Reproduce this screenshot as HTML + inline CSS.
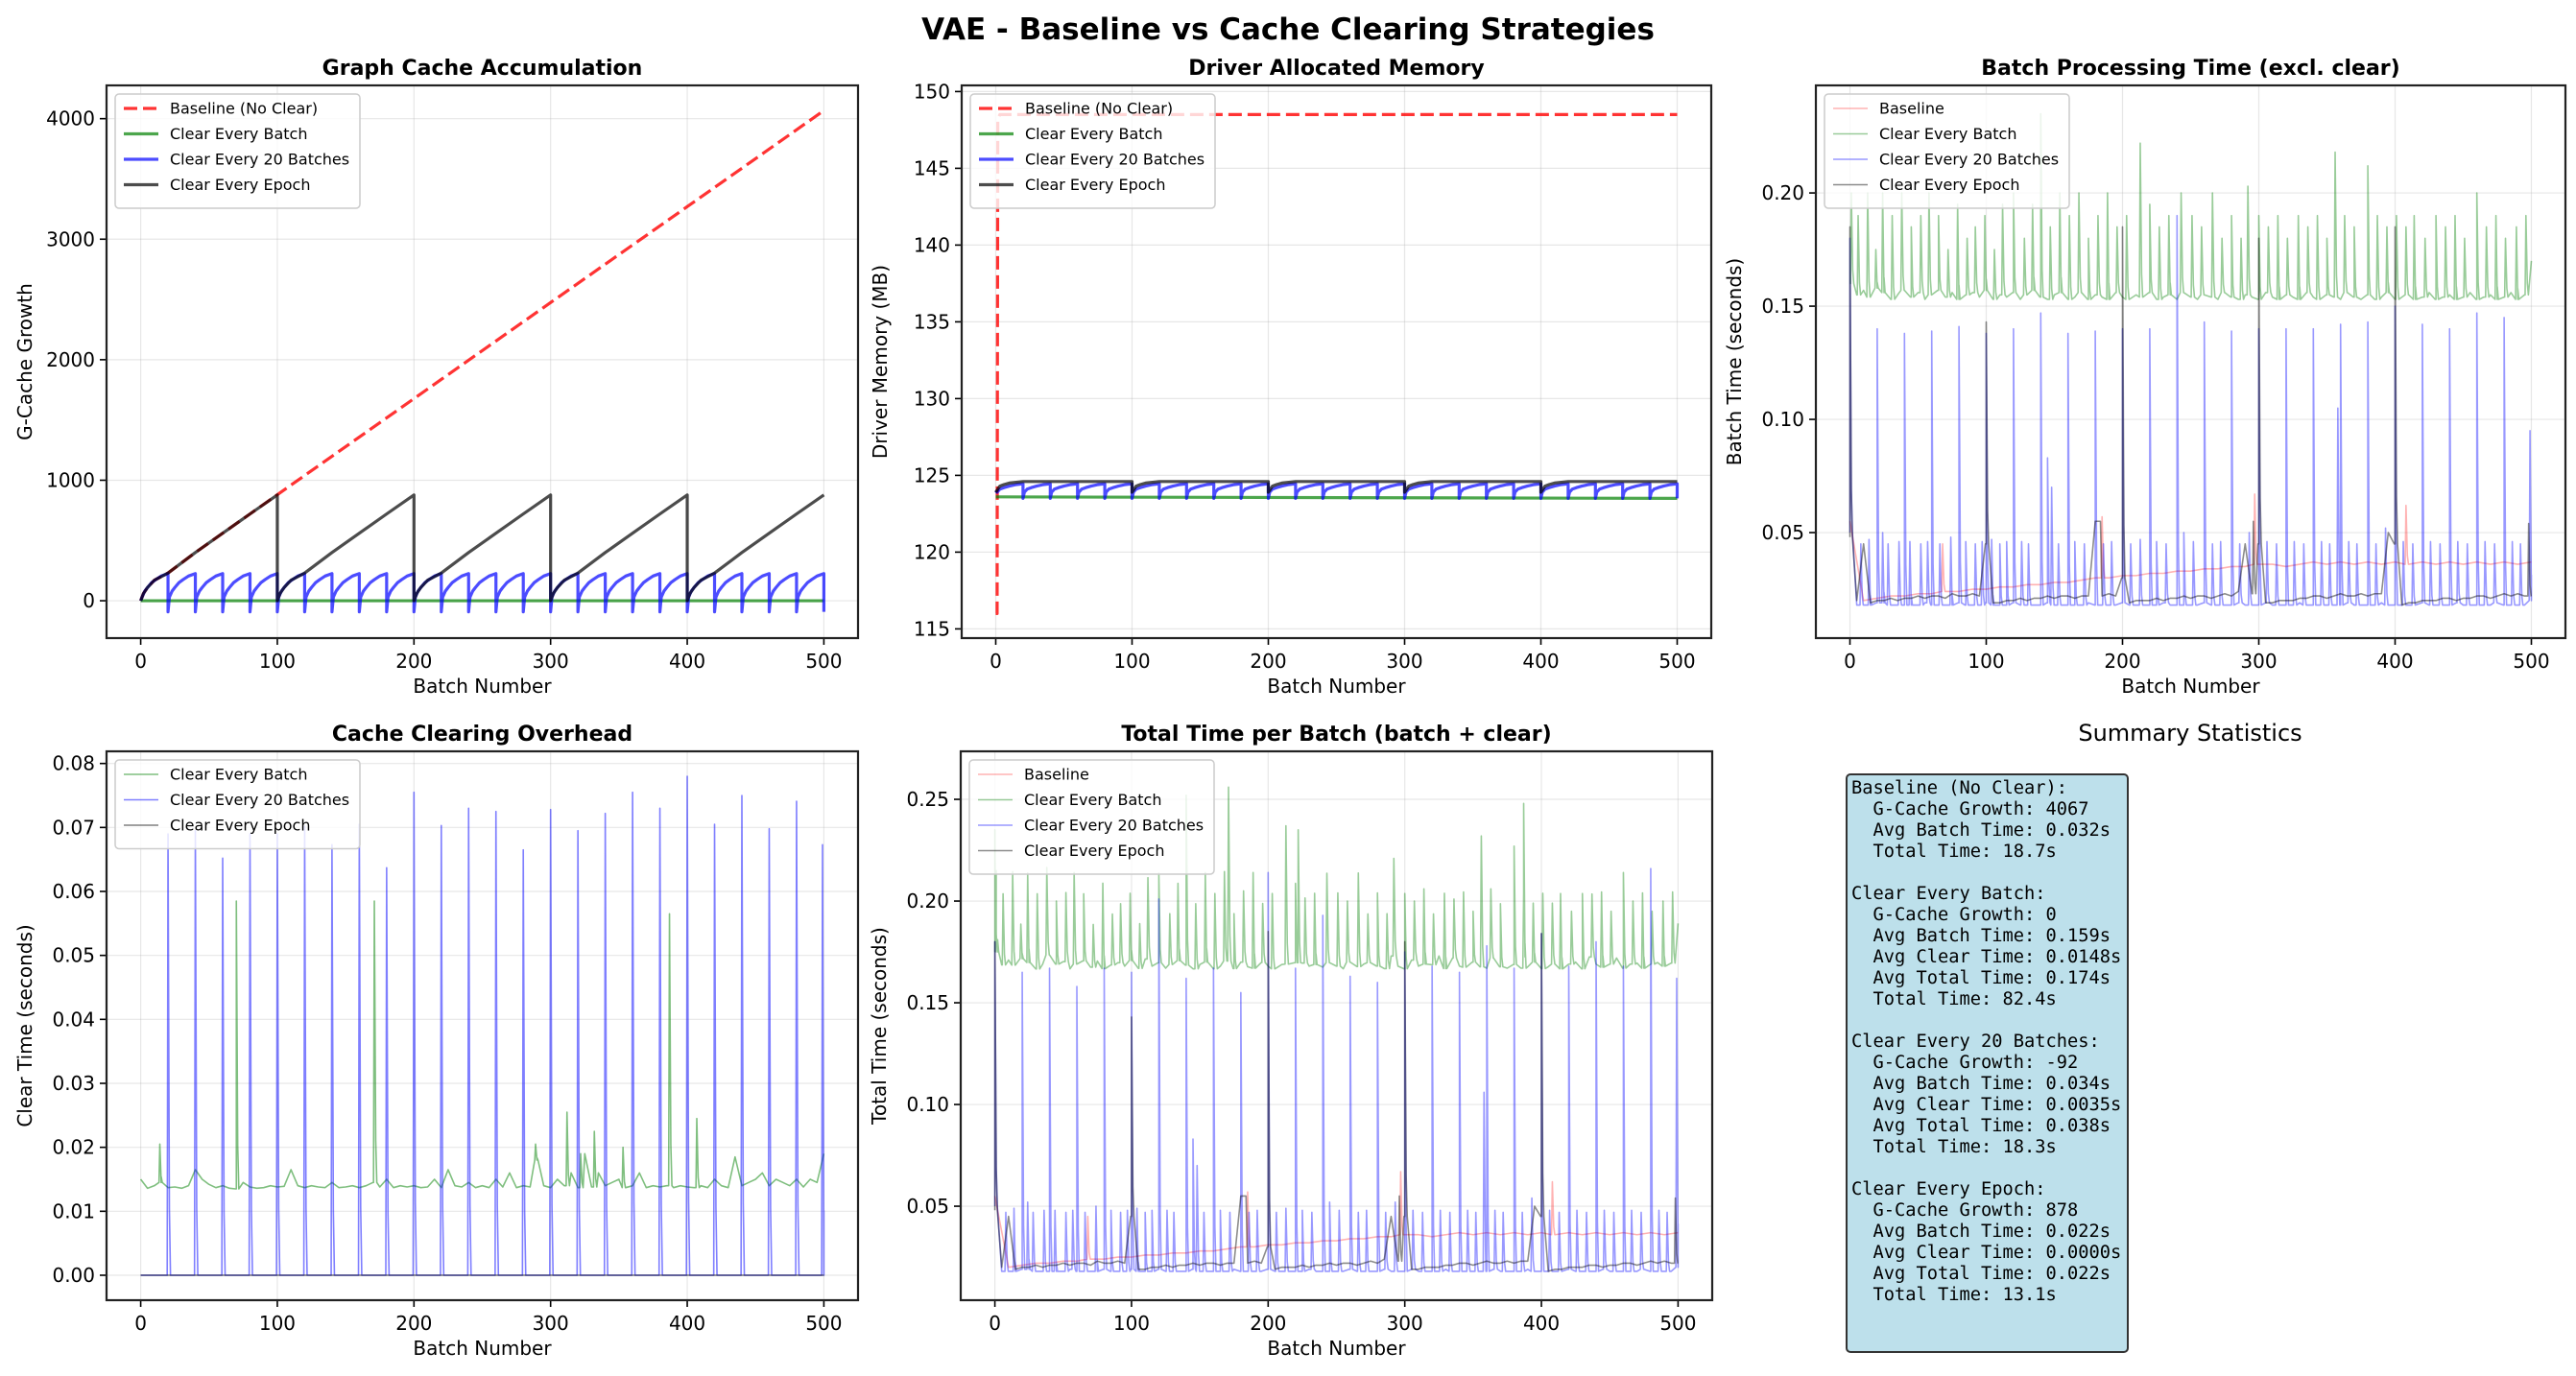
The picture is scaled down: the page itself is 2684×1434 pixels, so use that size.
<!DOCTYPE html>
<html><head><meta charset="utf-8">
<style>
html,body{margin:0;padding:0;background:#fff;}
svg{display:block;font-family:"DejaVu Sans","Liberation Sans",sans-serif;}
</style></head>
<body>
<svg id="fig" width="2684" height="1434" viewBox="0 0 2684 1434" xmlns="http://www.w3.org/2000/svg">
<rect x="0" y="0" width="2684" height="1434" fill="#fff"/>
<text x="1342" y="41" text-anchor="middle" font-size="31" font-weight="bold">VAE - Baseline vs Cache Clearing Strategies</text>
<text x="2282" y="772" text-anchor="middle" font-size="24">Summary Statistics</text>
<g>
<rect x="1924" y="807" width="293" height="602" rx="4" fill="#bde0eb" stroke="#333" stroke-width="2"/>
<text font-family="'DejaVu Sans Mono','Liberation Mono',monospace" font-size="18.7" fill="#000" xml:space="preserve">
<tspan x="1929" y="827">Baseline (No Clear):</tspan>
<tspan x="1929" y="849">  G-Cache Growth: 4067</tspan>
<tspan x="1929" y="871">  Avg Batch Time: 0.032s</tspan>
<tspan x="1929" y="893">  Total Time: 18.7s</tspan>
<tspan x="1929" y="937">Clear Every Batch:</tspan>
<tspan x="1929" y="959">  G-Cache Growth: 0</tspan>
<tspan x="1929" y="981">  Avg Batch Time: 0.159s</tspan>
<tspan x="1929" y="1003">  Avg Clear Time: 0.0148s</tspan>
<tspan x="1929" y="1025">  Avg Total Time: 0.174s</tspan>
<tspan x="1929" y="1047">  Total Time: 82.4s</tspan>
<tspan x="1929" y="1091">Clear Every 20 Batches:</tspan>
<tspan x="1929" y="1113">  G-Cache Growth: -92</tspan>
<tspan x="1929" y="1135">  Avg Batch Time: 0.034s</tspan>
<tspan x="1929" y="1157">  Avg Clear Time: 0.0035s</tspan>
<tspan x="1929" y="1179">  Avg Total Time: 0.038s</tspan>
<tspan x="1929" y="1201">  Total Time: 18.3s</tspan>
<tspan x="1929" y="1245">Clear Every Epoch:</tspan>
<tspan x="1929" y="1267">  G-Cache Growth: 878</tspan>
<tspan x="1929" y="1289">  Avg Batch Time: 0.022s</tspan>
<tspan x="1929" y="1311">  Avg Clear Time: 0.0000s</tspan>
<tspan x="1929" y="1333">  Avg Total Time: 0.022s</tspan>
<tspan x="1929" y="1355">  Total Time: 13.1s</tspan>
</text>
</g>
</svg>
<script>
// ---------- DATA ----------
const xTicks = [0,100,200,300,400,500];
// Panel 1: Graph cache
const gcBaseX = [0,2,5,10,15,20,40,60,80,100,200,300,400,500];
const gcBaseY = [0,60,110,170,200,230,400,560,720,880,1677,2474,3270,4067];
const gcEpochStarts = [0,100,200,300,400];
const gcEpochOffsets = [0,2,5,10,15,20,40,60,80,100];
const gcEpochVals = [0,60,110,170,200,230,400,560,720,878];
const gc20Starts = [0,20,40,60,80,100,120,140,160,180,200,220,240,260,280,300,320,340,360,380,400,420,440,460,480];
const gc20Offsets = [0,1,3,5,8,11,15,20];
const gc20Vals = [-92,30,80,110,150,175,205,225];
const gcYTicks = [0,1000,2000,3000,4000];
// Panel 2: Driver memory
const memBaseX = [0,1,1.5,3,500];
const memBaseY = [116,116,148.2,148.5,148.5];
const memBatchY = [123.6,123.5];
const mem20Offsets = [0,1,3,6,10,15,20];
const mem20Vals = [123.5,123.9,124.1,124.2,124.3,124.4,124.45];
const memEpochOffsets = [0,3,6,10,20,100];
const memEpochVals = [123.9,124.3,124.4,124.5,124.6,124.6];
const memYTicks = [115,120,125,130,135,140,145,150];
// Panel 3: batch time (sampled every 5 batches)
const btBaseline = [0.055,0.02,0.021,0.022,0.022,0.023,0.023,0.024,0.024,0.025,0.025,0.026,0.026,0.027,0.027,0.028,0.028,0.029,0.03,0.03,0.031,0.031,0.032,0.032,0.033,0.033,0.034,0.034,0.035,0.035,0.036,0.036,0.035,0.036,0.037,0.036,0.037,0.036,0.037,0.036,0.037,0.036,0.037,0.036,0.037,0.036,0.037,0.036,0.037,0.036,0.037];
const btBaselineSpikes = [[68,0.045],[185,0.057],[297,0.067],[408,0.062]];
const btBatch = [
0.16,0.155,0.157,0.154,0.158,0.156,0.153,0.155,0.157,0.154,
0.156,0.153,0.155,0.157,0.154,0.156,0.153,0.155,0.156,0.154,
0.157,0.153,0.155,0.154,0.156,0.153,0.155,0.157,0.154,0.153,
0.155,0.156,0.153,0.154,0.156,0.153,0.155,0.154,0.153,0.156,
0.154,0.153,0.155,0.154,0.156,0.153,0.154,0.155,0.153,0.156,
0.154,0.153,0.155,0.154,0.153,0.156,0.154,0.153,0.155,0.154,
0.153,0.156,0.154,0.153,0.155,0.154,0.153,0.156,0.154,0.153,
0.155,0.154,0.153,0.156,0.154,0.153,0.155,0.153,0.154,0.156,
0.153,0.154,0.155,0.153,0.154,0.156,0.153,0.154,0.155,0.153,
0.154,0.156,0.153,0.154,0.155,0.153,0.154,0.156,0.153,0.155,
0.17];
const btBatchSpikes = [[1,0.2],[6,0.19],[13,0.2],[19,0.175],[24,0.2],[31,0.19],[38,0.2],[45,0.185],[52,0.19],[58,0.2],[65,0.19],[72,0.175],[79,0.195],[86,0.18],[92,0.185],[99,0.19],[106,0.175],[112,0.195],[120,0.2],[128,0.18],[134,0.195],[140,0.235],[147,0.185],[154,0.2],[161,0.19],[168,0.2],[175,0.18],[182,0.19],[189,0.2],[196,0.185],[203,0.19],[213,0.222],[220,0.195],[227,0.185],[234,0.19],[243,0.2],[251,0.19],[258,0.185],[266,0.2],[273,0.18],[280,0.19],[287,0.18],[292,0.203],[300,0.19],[307,0.185],[314,0.19],[321,0.18],[329,0.19],[336,0.185],[343,0.19],[350,0.18],[356,0.218],[363,0.19],[370,0.185],[380,0.212],[387,0.19],[394,0.185],[401,0.19],[408,0.185],[414,0.19],[422,0.18],[430,0.19],[437,0.185],[444,0.19],[451,0.18],[460,0.2],[467,0.185],[474,0.19],[481,0.18],[489,0.185],[496,0.19]];
const bt20 = [
0.05,0.018,0.018,0.018,0.019,0.019,0.018,0.018,0.018,0.018,
0.018,0.019,0.018,0.018,0.018,0.018,0.019,0.018,0.018,0.018,
0.019,0.018,0.018,0.018,0.019,0.018,0.018,0.018,0.018,0.019,
0.018,0.018,0.018,0.018,0.018,0.019,0.018,0.018,0.018,0.018,
0.019,0.018,0.018,0.018,0.018,0.018,0.019,0.018,0.018,0.018,
0.018,0.018,0.019,0.018,0.018,0.018,0.018,0.019,0.018,0.018,
0.018,0.019,0.018,0.018,0.018,0.018,0.019,0.018,0.018,0.018,
0.018,0.018,0.018,0.019,0.018,0.018,0.018,0.018,0.019,0.018,
0.018,0.018,0.018,0.018,0.019,0.018,0.018,0.018,0.018,0.019,
0.018,0.018,0.018,0.018,0.018,0.019,0.018,0.018,0.018,0.018,
0.02];
const bt20Spikes = [[0,0.18],[8,0.045],[14,0.047],[20,0.14],[24,0.05],[28,0.045],[36,0.046],[40,0.138],[44,0.046],[52,0.045],[57,0.046],[60,0.139],[66,0.045],[74,0.048],[80,0.141],[85,0.046],[92,0.045],[97,0.046],[100,0.138],[104,0.047],[110,0.045],[115,0.046],[120,0.14],[126,0.046],[131,0.045],[140,0.147],[145,0.083],[148,0.07],[153,0.045],[160,0.138],[165,0.046],[172,0.045],[180,0.139],[186,0.045],[192,0.046],[200,0.14],[206,0.045],[213,0.047],[220,0.14],[225,0.046],[232,0.045],[240,0.19],[245,0.05],[252,0.046],[260,0.143],[266,0.045],[272,0.046],[280,0.139],[286,0.045],[293,0.05],[300,0.14],[306,0.046],[313,0.045],[320,0.14],[326,0.046],[333,0.045],[340,0.14],[346,0.046],[352,0.045],[358,0.105],[360,0.142],[366,0.046],[372,0.045],[380,0.143],[386,0.045],[393,0.052],[400,0.15],[406,0.046],[413,0.045],[420,0.142],[426,0.046],[433,0.045],[440,0.14],[446,0.046],[453,0.045],[460,0.147],[466,0.046],[473,0.045],[480,0.145],[486,0.046],[492,0.045],[499,0.095]];
const btEpoch = [
0.048,0.02,0.045,0.019,0.02,0.02,0.021,0.02,0.021,0.021,0.022,0.021,0.022,0.022,0.021,0.023,0.022,0.022,0.023,0.022,
0.045,0.019,0.019,0.02,0.02,0.021,0.02,0.021,0.021,0.022,0.021,0.022,0.022,0.021,0.022,0.022,0.055,0.022,0.023,0.022,
0.03,0.019,0.02,0.02,0.02,0.021,0.02,0.021,0.021,0.022,0.021,0.022,0.022,0.021,0.022,0.023,0.022,0.024,0.045,0.023,
0.045,0.019,0.019,0.02,0.02,0.02,0.021,0.021,0.022,0.022,0.021,0.022,0.023,0.022,0.022,0.023,0.022,0.023,0.023,0.05,
0.045,0.018,0.019,0.019,0.02,0.02,0.02,0.021,0.021,0.02,0.021,0.021,0.022,0.022,0.021,0.022,0.023,0.022,0.023,0.022,
0.022];
const btEpochSpikes = [[0,0.185],[100,0.143],[200,0.185],[300,0.18],[400,0.185],[182,0.055],[296,0.055],[498,0.054]];
const btYTicks = [0.05,0.10,0.15,0.20];
// Panel 4: clear time
const ctBatch = [
0.015,0.0136,0.014,0.0145,0.0137,0.0138,0.0136,0.014,0.0165,0.015,0.0142,0.0137,0.014,0.0136,0.0135,0.0145,0.0138,0.0136,0.0137,0.014,
0.0138,0.0139,0.0165,0.014,0.0137,0.014,0.0138,0.0137,0.0145,0.0137,0.0138,0.014,0.0137,0.014,0.0145,0.0138,0.015,0.0137,0.014,0.0138,
0.014,0.0137,0.0138,0.015,0.0137,0.0165,0.014,0.0138,0.0145,0.0137,0.014,0.0137,0.015,0.0138,0.016,0.0137,0.014,0.0138,0.018,0.014,
0.0137,0.015,0.014,0.016,0.0137,0.019,0.0138,0.016,0.014,0.0145,0.015,0.0137,0.014,0.016,0.0137,0.014,0.0138,0.014,0.0137,0.014,
0.0138,0.0137,0.014,0.0137,0.015,0.014,0.0137,0.0185,0.014,0.0145,0.015,0.016,0.014,0.015,0.0145,0.014,0.015,0.0138,0.015,0.0145,
0.019];
const ctBatchSpikes = [[14,0.0205],[70,0.0585],[171,0.0585],[289,0.0205],[312,0.0255],[322,0.019],[332,0.0225],[353,0.02],[387,0.0565],[407,0.0245]];
const ct20Spikes = [[20,0.069],[40,0.0695],[60,0.0652],[80,0.069],[100,0.069],[120,0.0702],[140,0.0673],[160,0.0705],[180,0.0637],[200,0.0755],[220,0.0703],[240,0.073],[260,0.0725],[280,0.0665],[300,0.0728],[320,0.0695],[340,0.0722],[360,0.0755],[380,0.073],[400,0.078],[420,0.0705],[440,0.075],[460,0.0698],[480,0.0741],[499,0.0673]];
const ctYTicks = [0,0.01,0.02,0.03,0.04,0.05,0.06,0.07,0.08];
// Panel 5: total time extra spikes
const ttBatchSpikes = [[0,0.235],[140,0.252],[171,0.256],[222,0.235],[356,0.232],[380,0.227],[387,0.248]];
const tt20Spikes = [[0,0.18],[8,0.047],[14,0.049],[20,0.165],[24,0.052],[28,0.047],[36,0.048],[40,0.167],[44,0.048],[52,0.047],[57,0.048],[60,0.158],[66,0.047],[74,0.05],[80,0.167],[85,0.048],[92,0.047],[97,0.048],[100,0.165],[104,0.049],[110,0.047],[115,0.048],[120,0.201],[126,0.048],[131,0.047],[140,0.162],[145,0.083],[148,0.07],[153,0.047],[160,0.167],[165,0.048],[172,0.047],[180,0.155],[186,0.047],[192,0.048],[200,0.214],[206,0.047],[213,0.049],[220,0.167],[225,0.048],[232,0.047],[240,0.193],[245,0.052],[252,0.048],[260,0.163],[266,0.047],[272,0.048],[280,0.16],[286,0.047],[293,0.052],[300,0.175],[306,0.048],[313,0.047],[320,0.168],[326,0.048],[333,0.047],[340,0.165],[346,0.048],[352,0.047],[358,0.106],[360,0.178],[366,0.048],[372,0.047],[380,0.167],[386,0.047],[393,0.054],[400,0.184],[406,0.048],[413,0.047],[420,0.168],[426,0.048],[433,0.047],[440,0.18],[446,0.048],[453,0.047],[460,0.168],[466,0.048],[473,0.047],[480,0.216],[486,0.048],[492,0.047],[499,0.162]];
const ttEpochSpikes = [[0,0.18],[100,0.143],[200,0.185],[300,0.18],[400,0.184],[182,0.055],[296,0.055],[498,0.054]];
const ttYTicks = [0.05,0.10,0.15,0.20,0.25];

// ---------- DRAWING ----------
const NS = "http://www.w3.org/2000/svg";
const fig = document.getElementById('fig');
function el(tag, attrs, parent){const e=document.createElementNS(NS,tag);for(const k in attrs)e.setAttribute(k,attrs[k]);(parent||fig).appendChild(e);return e;}

function makeAxes(id, box, xd, yd, yTicks, yFmt, title, ylabel){
  const g = el('g',{});
  
  
  const sx = v => box.l + (v-xd[0])/(xd[1]-xd[0])*(box.r-box.l);
  const sy = v => box.b - (v-yd[0])/(yd[1]-yd[0])*(box.b-box.t);
  const cp = el('clipPath',{id:'clip-'+id},g);
  el('rect',{x:box.l,y:box.t,width:box.r-box.l,height:box.b-box.t},cp);
  xTicks.forEach(v=>{el('line',{x1:sx(v),x2:sx(v),y1:box.t,y2:box.b,stroke:'#b0b0b0','stroke-opacity':0.3,'stroke-width':1.2},g);});
  yTicks.forEach(v=>{el('line',{x1:box.l,x2:box.r,y1:sy(v),y2:sy(v),stroke:'#b0b0b0','stroke-opacity':0.3,'stroke-width':1.2},g);});
  xTicks.forEach(v=>{
    el('line',{x1:sx(v),x2:sx(v),y1:box.b,y2:box.b+7,stroke:'#000','stroke-width':1.6},g);
    const t=el('text',{x:sx(v),y:box.b+31,'text-anchor':'middle','font-size':20},g);
    
    
    t.textContent=v;
  });
  yTicks.forEach(v=>{
    el('line',{x1:box.l-7,x2:box.l,y1:sy(v),y2:sy(v),stroke:'#000','stroke-width':1.6},g);
    const t=el('text',{x:box.l-12,y:sy(v)+7,'text-anchor':'end','font-size':20},g);
    
    
    t.textContent=yFmt(v);
  });
  const tt=el('text',{x:(box.l+box.r)/2,y:box.t-11,'text-anchor':'middle','font-size':22,'font-weight':'bold'},g);
  
  
  tt.textContent=title;
  const xl=el('text',{x:(box.l+box.r)/2,y:box.b+57,'text-anchor':'middle','font-size':20},g);
  
  
  xl.textContent='Batch Number';
  const yx=box.l-78, yy=(box.t+box.b)/2;
  const yl=el('text',{x:yx,y:yy,'text-anchor':'middle','font-size':20,transform:`rotate(-90 ${yx} ${yy})`},g);
  
  
  yl.textContent=ylabel;
  const plot=el('g',{'clip-path':`url(#clip-${id})`},g);
  return {g,plot,sx,sy,box};
}
function frame(ax){el('rect',{x:ax.box.l,y:ax.box.t,width:ax.box.r-ax.box.l,height:ax.box.b-ax.box.t,fill:'none',stroke:'#222','stroke-width':2.2},ax.g);}
function line(ax, xs, ys, style, name){
  let d='';
  for(let i=0;i<xs.length;i++){d+=(i?'L':'M')+ax.sx(xs[i]).toFixed(2)+' '+ax.sy(ys[i]).toFixed(2);}
  const p=el('path',Object.assign({d:d,fill:'none','stroke-linejoin':'round'},style),ax.plot);
  
  
  return p;
}
function sampled(vals){const xs=vals.map((v,i)=>i*500/(vals.length-1));return {xs,ys:vals.slice()};}
function valAt(vals,x){const i=Math.round(x/500*(vals.length-1));return vals[Math.max(0,Math.min(vals.length-1,i))];}
function withSpikes(vals, spikes){
  const s=sampled(vals); const pts=s.xs.map((x,i)=>[x,s.ys[i]]);
  spikes.forEach(([x,v])=>{const b=valAt(vals,x);pts.push([Math.max(0,x-0.6),b]);pts.push([x,v]);pts.push([Math.min(500,x+1),b+(v-b)*0.15]);pts.push([Math.min(500,x+1.8),b]);});
  pts.sort((a,b)=>a[0]-b[0]);
  return {xs:pts.map(p=>p[0]),ys:pts.map(p=>p[1])};
}
function legend(ax, entries, w){
  const x0=ax.box.l+9, y0=ax.box.t+9, h=entries.length*26.5+13;
  const lg=el('g',{},ax.g);
  
  
  el('rect',{x:x0,y:y0,width:w,height:h,rx:4,fill:'#fff','fill-opacity':0.8,stroke:'#ccc','stroke-width':1.5},lg);
  entries.forEach((e,i)=>{
    const y=y0+15+i*26.5;
    const ln=el('line',Object.assign({x1:x0+9,x2:x0+45,y1:y,y2:y},e.style),lg);
    
    
    const t=el('text',{x:x0+57,y:y+5.5,'font-size':16},lg);
    
    
    t.textContent=e.label;
  });
}
const f0=v=>String(v), f2=v=>v.toFixed(2);
const RED={stroke:'#ff0000','stroke-opacity':0.8,'stroke-width':3.2,'stroke-dasharray':'14 6'};
const GRN={stroke:'#008000','stroke-opacity':0.7,'stroke-width':3.2};
const BLU={stroke:'#0000ff','stroke-opacity':0.7,'stroke-width':3.2};
const BLK={stroke:'#000','stroke-opacity':0.7,'stroke-width':3.2};
const tRED={stroke:'#ff0000','stroke-opacity':0.3,'stroke-width':1.6};
const tGRN={stroke:'#008000','stroke-opacity':0.4,'stroke-width':1.6};
const tBLU={stroke:'#0000ff','stroke-opacity':0.4,'stroke-width':1.6};
const tBLK={stroke:'#000','stroke-opacity':0.45,'stroke-width':1.6};

// Panel 1
(function(){
  const ax=makeAxes('graph-cache-chart',{l:111,r:894,t:89,b:665},[-25,525],[-310,4276],gcYTicks,f0,'Graph Cache Accumulation','G-Cache Growth');
  line(ax,gcBaseX,gcBaseY,RED,'baseline-line');
  line(ax,[0,500],[0,0],GRN,'clear-every-batch-line');
  let bx=[],by=[];
  gc20Starts.forEach((s,k)=>{gc20Offsets.forEach((o,i)=>{bx.push(s+o);by.push(k===0&&i===0?0:gc20Vals[i]);});});
  bx.push(500);by.push(gc20Vals[0]);
  line(ax,bx,by,BLU,'clear-every-20-line');
  let ex=[],ey=[];
  gcEpochStarts.forEach(s=>{gcEpochOffsets.forEach((o,i)=>{ex.push(s+o);ey.push(gcEpochVals[i]);});});
  line(ax,ex,ey,BLK,'clear-every-epoch-line');
  frame(ax);
  legend(ax,[{label:'Baseline (No Clear)',style:RED},{label:'Clear Every Batch',style:GRN},{label:'Clear Every 20 Batches',style:BLU},{label:'Clear Every Epoch',style:BLK}],255);
})();
// Panel 2
(function(){
  const ax=makeAxes('driver-memory-chart',{l:1002,r:1783,t:89,b:665},[-25,525],[114.4,150.4],memYTicks,f0,'Driver Allocated Memory','Driver Memory (MB)');
  line(ax,memBaseX,memBaseY,RED,'baseline-line');
  line(ax,[0,500],memBatchY,GRN,'clear-every-batch-line');
  let bx=[],by=[];
  gc20Starts.forEach((s,k)=>{mem20Offsets.forEach((o,i)=>{bx.push(s+o);by.push(k===0&&i===0?124.0:mem20Vals[i]);});});
  bx.push(500);by.push(mem20Vals[0]);
  line(ax,bx,by,BLU,'clear-every-20-line');
  let ex=[],ey=[];
  gcEpochStarts.forEach(s=>{memEpochOffsets.forEach((o,i)=>{ex.push(s+o);ey.push(memEpochVals[i]);});});
  line(ax,ex,ey,BLK,'clear-every-epoch-line');
  frame(ax);
  legend(ax,[{label:'Baseline (No Clear)',style:RED},{label:'Clear Every Batch',style:GRN},{label:'Clear Every 20 Batches',style:BLU},{label:'Clear Every Epoch',style:BLK}],255);
})();
// Panel 3
(function(){
  const ax=makeAxes('batch-time-chart',{l:1892,r:2673,t:89,b:665},[-25,525],[0.0034,0.2475],btYTicks,f2,'Batch Processing Time (excl. clear)','Batch Time (seconds)');
  let s=withSpikes(btBaseline,btBaselineSpikes); line(ax,s.xs,s.ys,tRED,'baseline-line');
  s=withSpikes(btBatch,btBatchSpikes); line(ax,s.xs,s.ys,tGRN,'clear-every-batch-line');
  s=withSpikes(bt20,bt20Spikes); line(ax,s.xs,s.ys,tBLU,'clear-every-20-line');
  s=withSpikes(btEpoch,btEpochSpikes); line(ax,s.xs,s.ys,tBLK,'clear-every-epoch-line');
  frame(ax);
  legend(ax,[{label:'Baseline',style:tRED},{label:'Clear Every Batch',style:tGRN},{label:'Clear Every 20 Batches',style:tBLU},{label:'Clear Every Epoch',style:tBLK}],255);
})();
// Panel 4
(function(){
  const ax=makeAxes('clear-overhead-chart',{l:111,r:894,t:783,b:1355},[-25,525],[-0.0039,0.0819],ctYTicks,f2,'Cache Clearing Overhead','Clear Time (seconds)');
  const G={stroke:'#008000','stroke-opacity':0.5,'stroke-width':1.6};
  const B={stroke:'#0000ff','stroke-opacity':0.5,'stroke-width':1.6};
  const K={stroke:'#000','stroke-opacity':0.5,'stroke-width':1.6};
  let s=withSpikes(ctBatch,ctBatchSpikes); line(ax,s.xs,s.ys,G,'clear-every-batch-line');
  s=withSpikes([0,0],ct20Spikes); line(ax,s.xs,s.ys,B,'clear-every-20-line');
  line(ax,[0,500],[0,0],K,'clear-every-epoch-line');
  frame(ax);
  legend(ax,[{label:'Clear Every Batch',style:G},{label:'Clear Every 20 Batches',style:B},{label:'Clear Every Epoch',style:K}],255);
})();
// Panel 5
(function(){
  const ax=makeAxes('total-time-chart',{l:1001,r:1784,t:783,b:1355},[-25,525],[0.0038,0.2736],ttYTicks,f2,'Total Time per Batch (batch + clear)','Total Time (seconds)');
  const gTot=btBatch.map((v,i)=>v+valAt(ctBatch,i*500/(btBatch.length-1)));
  const gSp=btBatchSpikes.map(([x,v])=>[x,v+valAt(ctBatch,x)]).concat(ttBatchSpikes);
  let s=withSpikes(btBaseline,btBaselineSpikes); line(ax,s.xs,s.ys,tRED,'baseline-line');
  s=withSpikes(gTot,gSp); line(ax,s.xs,s.ys,tGRN,'clear-every-batch-line');
  s=withSpikes(bt20,tt20Spikes); line(ax,s.xs,s.ys,tBLU,'clear-every-20-line');
  s=withSpikes(btEpoch,ttEpochSpikes); line(ax,s.xs,s.ys,tBLK,'clear-every-epoch-line');
  frame(ax);
  legend(ax,[{label:'Baseline',style:tRED},{label:'Clear Every Batch',style:tGRN},{label:'Clear Every 20 Batches',style:tBLU},{label:'Clear Every Epoch',style:tBLK}],255);
})();
</script>
</body></html>
